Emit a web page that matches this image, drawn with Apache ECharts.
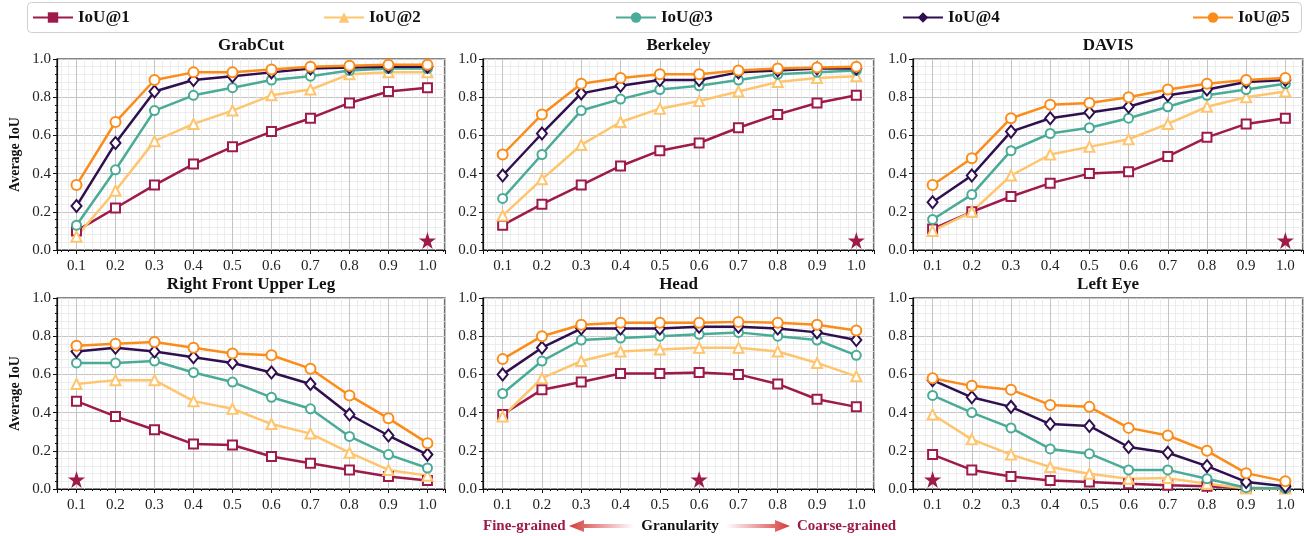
<!DOCTYPE html>
<html>
<head>
<meta charset="utf-8">
<script src="https://cdn.jsdelivr.net/npm/echarts@6/dist/echarts.min.js"></script>
<style>
  html, body { margin: 0; padding: 0; background: #fff; }
  #chart { width: 1312px; height: 536px; }
</style>
</head>
<body>
<div id="chart"></div>
<script>
// data
const granularity = [0.1, 0.2, 0.3, 0.4, 0.5, 0.6, 0.7, 0.8, 0.9, 1.0];
const seriesNames = ['IoU@1', 'IoU@2', 'IoU@3', 'IoU@4', 'IoU@5'];
const panelTitles = ['GrabCut', 'Berkeley', 'DAVIS', 'Right Front Upper Leg', 'Head', 'Left Eye'];

const grabCut = [
  [0.10, 0.22, 0.34, 0.45, 0.54, 0.62, 0.69, 0.77, 0.83, 0.85],
  [0.07, 0.31, 0.57, 0.66, 0.73, 0.81, 0.84, 0.92, 0.93, 0.93],
  [0.13, 0.42, 0.73, 0.81, 0.85, 0.89, 0.91, 0.94, 0.95, 0.95],
  [0.23, 0.56, 0.83, 0.89, 0.91, 0.93, 0.95, 0.955, 0.96, 0.96],
  [0.34, 0.67, 0.89, 0.93, 0.93, 0.945, 0.96, 0.965, 0.97, 0.97]
];
const berkeley = [
  [0.13, 0.24, 0.34, 0.44, 0.52, 0.56, 0.64, 0.71, 0.77, 0.81],
  [0.18, 0.37, 0.55, 0.67, 0.74, 0.78, 0.83, 0.88, 0.90, 0.91],
  [0.27, 0.50, 0.73, 0.79, 0.84, 0.86, 0.89, 0.92, 0.93, 0.94],
  [0.39, 0.61, 0.82, 0.86, 0.89, 0.89, 0.93, 0.94, 0.95, 0.95],
  [0.50, 0.71, 0.87, 0.90, 0.92, 0.92, 0.94, 0.95, 0.955, 0.96]
];
const davis = [
  [0.11, 0.20, 0.28, 0.35, 0.40, 0.41, 0.49, 0.59, 0.66, 0.69],
  [0.10, 0.20, 0.39, 0.50, 0.54, 0.58, 0.66, 0.75, 0.80, 0.83],
  [0.16, 0.29, 0.52, 0.61, 0.64, 0.69, 0.75, 0.81, 0.84, 0.87],
  [0.25, 0.39, 0.62, 0.69, 0.72, 0.75, 0.81, 0.84, 0.88, 0.89],
  [0.34, 0.48, 0.69, 0.76, 0.77, 0.80, 0.84, 0.87, 0.89, 0.90]
];
const upperLeg = [
  [0.46, 0.38, 0.31, 0.235, 0.23, 0.17, 0.135, 0.10, 0.065, 0.045],
  [0.55, 0.57, 0.57, 0.46, 0.42, 0.34, 0.29, 0.19, 0.10, 0.07],
  [0.66, 0.66, 0.67, 0.61, 0.56, 0.48, 0.42, 0.275, 0.18, 0.11],
  [0.72, 0.74, 0.72, 0.69, 0.66, 0.61, 0.55, 0.39, 0.28, 0.18],
  [0.75, 0.76, 0.77, 0.74, 0.71, 0.70, 0.63, 0.49, 0.37, 0.24]
];
const head = [
  [0.39, 0.52, 0.56, 0.605, 0.605, 0.61, 0.60, 0.55, 0.47, 0.43],
  [0.38, 0.58, 0.67, 0.72, 0.73, 0.74, 0.74, 0.72, 0.66, 0.59],
  [0.50, 0.67, 0.78, 0.79, 0.80, 0.81, 0.82, 0.80, 0.78, 0.70],
  [0.60, 0.74, 0.84, 0.84, 0.84, 0.85, 0.85, 0.84, 0.82, 0.78],
  [0.68, 0.80, 0.86, 0.87, 0.87, 0.87, 0.875, 0.87, 0.86, 0.83]
];
const leftEye = [
  [0.18, 0.10, 0.066, 0.045, 0.037, 0.028, 0.02, 0.014, 0.004, 0.002],
  [0.39, 0.26, 0.18, 0.115, 0.08, 0.054, 0.057, 0.028, 0.003, 0.002],
  [0.49, 0.40, 0.32, 0.21, 0.185, 0.10, 0.10, 0.054, 0.007, 0.003],
  [0.57, 0.48, 0.43, 0.34, 0.33, 0.22, 0.19, 0.12, 0.037, 0.014],
  [0.58, 0.54, 0.52, 0.44, 0.43, 0.32, 0.28, 0.20, 0.083, 0.04]
];
const starX = [1.0, 1.0, 1.0, 0.1, 0.6, 0.1];
const starY = 0.05;

const panels = [grabCut, berkeley, davis, upperLeg, head, leftEye];

// styling
const colors = ['#9e1a4a', '#fec56f', '#4aab96', '#2f0f4f', '#fb8c1a'];
const symbols = ['rect', 'triangle', 'circle', 'diamond', 'circle'];
const symbolSizes = [9, 10, 9, [10, 12], 10];
const serif = '"Liberation Serif", "DejaVu Serif", serif';
const starPath = 'path://M50 0 L61.23 34.55 L97.55 34.55 L68.17 55.9 L79.39 90.45 L50 69.1 L20.61 90.45 L31.83 55.9 L2.45 34.55 L38.77 34.55 Z';

const gridBoxes = [
  { left: 57, top: 59, width: 388, height: 191 },
  { left: 483, top: 59, width: 391, height: 191 },
  { left: 913, top: 59, width: 390, height: 191 },
  { left: 57, top: 298, width: 388, height: 191 },
  { left: 483, top: 298, width: 391, height: 191 },
  { left: 913, top: 298, width: 390, height: 191 }
];

function buildOption() {
  const grid = [], xAxis = [], yAxis = [], series = [], title = [];

  gridBoxes.forEach((box, p) => {
    grid.push(Object.assign({
      show: true, borderColor: '#111', borderWidth: 1.2, backgroundColor: '#fff'
    }, box));

    title.push({
      text: panelTitles[p],
      left: box.left + box.width / 2,
      top: box.top - 22,
      textAlign: 'center',
      padding: 0,
      textStyle: { fontFamily: serif, fontWeight: 'bold', fontSize: 17, color: '#111' }
    });

    xAxis.push({
      type: 'value', gridIndex: p, min: 0.05, max: 1.045, splitNumber: 10,
      axisLine: { show: true, onZero: false, lineStyle: { color: '#111', width: 1.2 } },
      axisTick: { show: true, length: 4, lineStyle: { color: '#111' } },
      minorTick: { show: true, splitNumber: 5, length: 2, lineStyle: { color: '#111' } },
      splitLine: { show: true, lineStyle: { color: '#c4c4c4', width: 1 } },
      minorSplitLine: { show: true, lineStyle: { color: '#e8e8e8', width: 0.8 } },
      axisLabel: {
        showMinLabel: false, showMaxLabel: false, margin: 9,
        fontFamily: serif, fontSize: 15, color: '#222',
        formatter: v => v.toFixed(1)
      }
    });

    yAxis.push({
      type: 'value', gridIndex: p, min: 0, max: 1, interval: 0.2,
      name: (p % 3 === 0) ? 'Average IoU' : '',
      nameLocation: 'middle', nameGap: 35, nameRotate: 90,
      nameTextStyle: { fontFamily: serif, fontWeight: 'bold', fontSize: 14, color: '#111' },
      axisLine: { show: true, onZero: false, lineStyle: { color: '#111', width: 1.2 } },
      axisTick: { show: true, length: 4, lineStyle: { color: '#111' } },
      minorTick: { show: true, splitNumber: 5, length: 2, lineStyle: { color: '#111' } },
      splitLine: { show: true, lineStyle: { color: '#c4c4c4', width: 1 } },
      minorSplitLine: { show: true, lineStyle: { color: '#e8e8e8', width: 0.8 } },
      axisLabel: {
        margin: 6, fontFamily: serif, fontSize: 15, color: '#222',
        formatter: v => v.toFixed(1)
      }
    });

    panels[p].forEach((vals, s) => {
      series.push({
        name: seriesNames[s],
        type: 'line',
        xAxisIndex: p, yAxisIndex: p,
        data: granularity.map((g, i) => [g, vals[i]]),
        symbol: symbols[s],
        symbolSize: symbolSizes[s],
        showAllSymbol: true,
        lineStyle: { color: colors[s], width: 2.5 },
        itemStyle: { color: '#fff', borderColor: colors[s], borderWidth: 2 },
        emphasis: { disabled: true },
        animation: false
      });
    });

    series.push({
      type: 'scatter',
      xAxisIndex: p, yAxisIndex: p,
      data: [[starX[p], starY]],
      symbol: starPath,
      symbolSize: 17,
      itemStyle: { color: '#9e1a4a', opacity: 1 },
      emphasis: { disabled: true },
      z: 5,
      animation: false
    });
  });

  // one legend per entry, spread across the top box
  const legendLefts = [32, 323, 615, 902, 1192];
  const legend = seriesNames.map((name, s) => ({
    data: [{ name: name, itemStyle: { color: colors[s], borderColor: colors[s], borderWidth: 0 } }],
    left: legendLefts[s], top: 9,
    itemWidth: 40, itemHeight: 13, itemGap: 10,
    padding: 0,
    selectedMode: false,
    textStyle: { fontFamily: serif, fontWeight: 'bold', fontSize: 17, color: '#111' }
  }));

  const arrowRed = 'rgba(214,58,58,1)';
  const arrowClear = 'rgba(214,58,58,0)';
  const annotFont = { fontFamily: serif, fontWeight: 'bold', fontSize: 15 };

  const graphic = [
    {
      type: 'rect', left: 27, top: 2, z: -1,
      shape: { width: 1274, height: 30, r: 4 },
      style: { fill: '#fff', stroke: '#cfcfcf', lineWidth: 1 }
    },
    {
      type: 'text', x: 483, y: 526,
      style: Object.assign({ text: 'Fine-grained', fill: '#9e1a4a', align: 'left', verticalAlign: 'middle' }, annotFont)
    },
    {
      type: 'polygon',
      shape: { points: [[569, 526], [584, 520], [584, 524], [634, 524], [634, 528], [584, 528], [584, 532]] },
      style: { fill: { type: 'linear', x: 0, y: 0, x2: 1, y2: 0, colorStops: [{ offset: 0, color: arrowRed }, { offset: 1, color: arrowClear }] } }
    },
    {
      type: 'text', x: 680, y: 526,
      style: Object.assign({ text: 'Granularity', fill: '#111', align: 'center', verticalAlign: 'middle' }, annotFont)
    },
    {
      type: 'polygon',
      shape: { points: [[790, 526], [775, 520], [775, 524], [726, 524], [726, 528], [775, 528], [775, 532]] },
      style: { fill: { type: 'linear', x: 0, y: 0, x2: 1, y2: 0, colorStops: [{ offset: 0, color: arrowClear }, { offset: 1, color: arrowRed }] } }
    },
    {
      type: 'text', x: 797, y: 526,
      style: Object.assign({ text: 'Coarse-grained', fill: '#9e1a4a', align: 'left', verticalAlign: 'middle' }, annotFont)
    }
  ];

  return { animation: false, backgroundColor: '#fff', title, legend, grid, xAxis, yAxis, series, graphic };
}

const chart = echarts.init(document.getElementById('chart'), null, { renderer: 'canvas' });
chart.setOption(buildOption());
</script>
</body>
</html>
